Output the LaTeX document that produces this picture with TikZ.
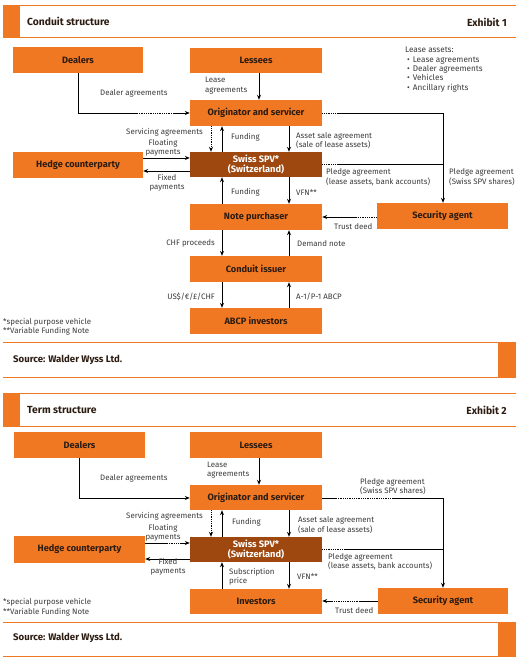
\documentclass[tikz,border=0pt]{standalone}
\usepackage{fontspec}
\setmainfont{Fira Sans}
\usetikzlibrary{arrows.meta,calc}
\definecolor{orng}{RGB}{240,120,35}
\definecolor{spvc}{RGB}{158,72,16}
\definecolor{txt}{RGB}{45,28,18}
\definecolor{lbl}{RGB}{60,60,60}
\begin{document}
\begin{tikzpicture}[x=1pt,y=-1pt,
  box/.style={fill=orng,minimum width=132pt,minimum height=26pt,inner sep=0pt,font=\fontsize{9.2}{10}\bfseries\selectfont,text=txt},
  spvbox/.style={box,fill=spvc,text=white,align=center,font=\fontsize{9.3}{9.8}\bfseries\selectfont},
  lab/.style={font=\fontsize{7.9}{9.4}\selectfont,text=lbl,inner sep=0pt,align=left},
  clab/.style={lab,align=center},
  head/.style={font=\fontsize{10.3}{11}\bfseries\selectfont,text=txt,inner sep=0pt},
  src/.style={font=\fontsize{9.6}{10}\bfseries\selectfont,text=txt,inner sep=0pt},
  arr/.style={-{Stealth[length=5pt,width=4pt]},line width=0.8pt,black},
  darr/.style={arr,densely dotted},
  ln/.style={line width=0.8pt,black},
  dln/.style={line width=0.8pt,black,densely dotted},
  rule/.style={orng,line width=0.9pt},
]
\useasboundingbox (0,0) rectangle (520,660);
\fill[white] (0,0) rectangle (520,660);

% ===== Exhibit 1 =====
\fill[orng] (3,5) rectangle (20,37);
\draw[rule] (3,5) -- (516,5);
\draw[rule] (3,37) -- (516,37);
\node[head,anchor=west] (t1) at (27,21) {Conduit structure};
\node[head,anchor=east] (e1) at (507,22) {Exhibit 1};

\node[box,minimum width=130pt] (dealers1) at (78,60) {Dealers};
\node[box,minimum height=25pt] (lessees1) at (256,60.5) {Lessees};
\node[box] (orig1) at (256,113) {Originator and servicer};
\node[spvbox,minimum height=25pt] (spv1) at (256,164.5) {Swiss SPV*\\(Switzerland)};
\node[box] (np1) at (256,217) {Note purchaser};
\node[box] (ci1) at (256,269) {Conduit issuer};
\node[box] (abcp) at (256,321) {ABCP investors};
\node[box,minimum width=130pt] (hedge1) at (78,165) {Hedge counterparty};
\node[box,minimum width=131pt] (sec1) at (442.5,216) {Security agent};

\node[lab,anchor=north west,font=\fontsize{8.2}{9.3}\selectfont] (la1) at (405,47) {Lease assets:\\
\hspace{2pt}\textbullet\hspace{3pt}Lease agreements\\
\hspace{2pt}\textbullet\hspace{3pt}Dealer agreements\\
\hspace{2pt}\textbullet\hspace{3pt}Vehicles\\
\hspace{2pt}\textbullet\hspace{3pt}Ancillary rights};

% connectors
\draw[ln] (dealers1.south) |- (137,113) coordinate (d1a);
\draw[dln] (d1a) -- (173,113) coordinate (d1b);
\draw[arr] (d1b) -- (orig1.west |- d1b);
\draw[arr] (lessees1.south -| 259,0) -- (orig1.north -| 259,0);
\draw[dln] (orig1.east |- 0,113) -- (337,113) coordinate (o1a);
\draw[arr] (o1a) -| (sec1.north -| 443,0);
\draw[dln] (spv1.east |- 0,164) -- (338,164) coordinate (s1a);
\draw[ln] (s1a) -- (443,164);
\draw[darr] (orig1.south -| 211,0) -- (spv1.north -| 211,0);
\draw[arr] (spv1.north -| 222,0) -- (orig1.south -| 222,0);
\draw[arr] (orig1.south -| 289,0) -- (spv1.north -| 289,0);
\draw[arr] (hedge1.east |- 0,158) -- (spv1.west |- 0,158);
\draw[arr] (spv1.west |- 0,171) -- (hedge1.east |- 0,171);
\draw[arr] (np1.north -| 222,0) -- (spv1.south -| 222,0);
\draw[arr] (spv1.south -| 289,0) -- (np1.north -| 289,0);
\draw[dln] (sec1.west |- 0,217) -- (357,217) coordinate (t1a);
\draw[arr] (t1a) -- (np1.east |- 0,217);
\draw[arr] (np1.south -| 222,0) -- (ci1.north -| 222,0);
\draw[arr] (ci1.north -| 289,0) -- (np1.south -| 289,0);
\draw[arr] (ci1.south -| 222,0) -- (abcp.north -| 222,0);
\draw[arr] (abcp.north -| 289,0) -- (ci1.south -| 289,0);

% labels
\node[lab,anchor=west] (l1) at (100,93) {Dealer agreements};
\node[lab,anchor=west] (l2) at (205,85.5) {Lease\\agreements};
\node[lab,anchor=east] (l3) at (203,132) {Servicing agreements};
\node[lab,anchor=west] (l4) at (231,137) {Funding};
\node[lab,anchor=west] (l5) at (296,140.5) {Asset sale agreement\\(sale of lease assets)};
\node[clab] (l6) at (163,148) {Floating\\payments};
\node[clab] (l7) at (167,182.5) {Fixed\\payments};
\node[lab,anchor=west] (l8) at (231,192.5) {Funding};
\node[lab,anchor=west] (l9) at (296,192.5) {VFN**};
\node[lab,anchor=west] (l10) at (326,177) {Pledge agreement\\(lease assets, bank accounts)};
\node[lab,anchor=west] (l11) at (449,177) {Pledge agreement\\(Swiss SPV shares)};
\node[lab,anchor=west] (l12) at (334,226.5) {Trust deed};
\node[lab,anchor=east] (l13) at (215,243.5) {CHF proceeds};
\node[lab,anchor=west] (l14) at (297,244) {Demand note};
\node[lab,anchor=east] (l15) at (215,296.5) {US\$/€/£/CHF};
\node[lab,anchor=west] (l16) at (296,297) {A-1/P-1 ABCP};
\node[lab,anchor=west] (f1) at (3,322) {*special purpose vehicle};
\node[lab,anchor=west] (f2) at (3,331.5) {**Variable Funding Note};

\draw[rule] (3,342) -- (516,342);
\draw[rule] (3,377) -- (516,377);
\fill[orng] (498,342) rectangle (516,377);
\node[src,anchor=west] (src1) at (13,359.5) {Source: Walder Wyss Ltd.};

% ===== Exhibit 2 =====
\fill[orng] (3,393) rectangle (20,426);
\draw[rule] (3,393) -- (516,393);
\draw[rule] (3,426) -- (516,426);
\node[head,anchor=west] (t2) at (27,410) {Term structure};
\node[head,anchor=east] (e2) at (507,410) {Exhibit 2};

\node[box,minimum width=131pt] (dealers2) at (79.5,445) {Dealers};
\node[box] (lessees2) at (256,445) {Lessees};
\node[box,minimum height=25pt] (orig2) at (256,497.5) {Originator and servicer};
\node[spvbox,minimum height=25pt] (spv2) at (256,549.5) {Swiss SPV*\\(Switzerland)};
\node[box,minimum height=25pt] (inv2) at (256,601.5) {Investors};
\node[box,minimum width=131pt,minimum height=27pt] (hedge2) at (79.5,549.5) {Hedge counterparty};
\node[box,minimum width=130pt] (sec2) at (443,601) {Security agent};

\draw[arr] (dealers2.south) |- (orig2.west |- 0,498);
\draw[arr] (lessees2.south -| 259,0) -- (orig2.north -| 259,0);
\draw[ln] (orig2.east |- 0,498) -- (336,498) coordinate (o2a);
\draw[dln] (o2a) -- (392,498) coordinate (o2b);
\draw[arr] (o2b) -| (sec2.north -| 443,0);
\draw[dln] (spv2.east |- 0,549) -- (345,549) coordinate (s2a);
\draw[ln] (s2a) -- (443,549);
\draw[darr] (orig2.south -| 211,0) -- (spv2.north -| 211,0);
\draw[arr] (spv2.north -| 222,0) -- (orig2.south -| 222,0);
\draw[arr] (orig2.south -| 289,0) -- (spv2.north -| 289,0);
\draw[ln] (hedge2.east |- 0,543) -- (167,543) coordinate (h2a);
\draw[dln] (h2a) -- (182,543) coordinate (h2b);
\draw[arr] (h2b) -- (spv2.west |- 0,543);
\draw[arr] (spv2.west |- 0,559) -- (hedge2.east |- 0,559);
\draw[arr] (inv2.north -| 222,0) -- (spv2.south -| 222,0);
\draw[arr] (spv2.south -| 289,0) -- (inv2.north -| 289,0);
\draw[ln] (sec2.west |- 0,601) -- (360,601) coordinate (t2a);
\draw[dln] (t2a) -- (332,601) coordinate (t2b);
\draw[arr] (t2b) -- (inv2.east |- 0,601);

\node[lab,anchor=west] (m1) at (100,478) {Dealer agreements};
\node[lab,anchor=west] (m2) at (207,470) {Lease\\agreements};
\node[lab,anchor=west] (m3) at (360,486.5) {Pledge agreement\\(Swiss SPV shares)};
\node[lab,anchor=east] (m4) at (203,516) {Servicing agreements};
\node[lab,anchor=west] (m5) at (232,522) {Funding};
\node[lab,anchor=west] (m6) at (298,525) {Asset sale agreement\\(sale of lease assets)};
\node[clab] (m7) at (163,533) {Floating\\payments};
\node[clab] (m8) at (168,567) {Fixed\\payments};
\node[lab,anchor=west] (m9) at (328,561.5) {Pledge agreement\\(lease assets, bank accounts)};
\node[lab,anchor=west] (m10) at (229,576.5) {Subscription\\price};
\node[lab,anchor=west] (m11) at (297,577) {VFN**};
\node[lab,anchor=west] (m12) at (335,611) {Trust deed};
\node[lab,anchor=west] (g1) at (3,602.5) {*special purpose vehicle};
\node[lab,anchor=west] (g2) at (3,612.5) {**Variable Funding Note};

\draw[rule] (3,622) -- (516,622);
\draw[rule] (3,656) -- (516,656);
\fill[orng] (498,622) rectangle (516,656);
\node[src,anchor=west] (src2) at (13,638) {Source: Walder Wyss Ltd.};
\end{tikzpicture}
\end{document}
